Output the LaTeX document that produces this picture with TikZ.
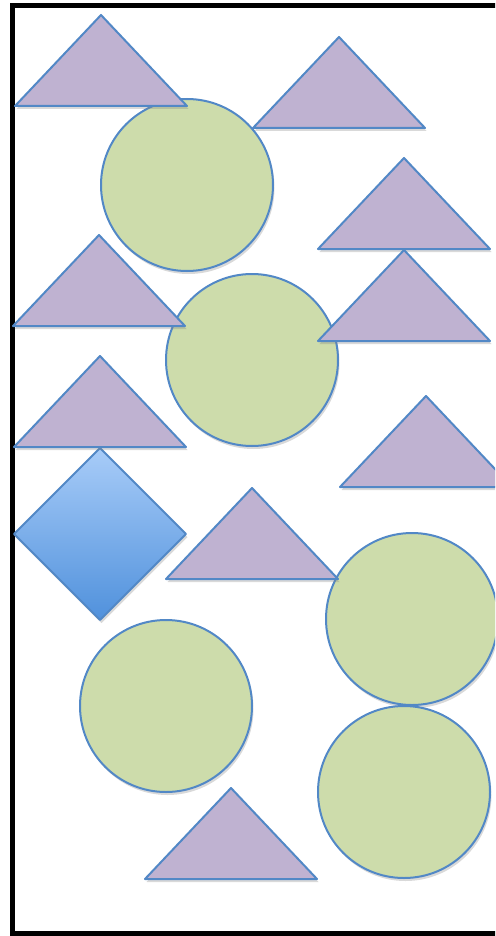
\documentclass[tikz,border=0pt]{standalone}
\usetikzlibrary{shadows}

\definecolor{shapeLine}{RGB}{82,136,198}
\definecolor{triFill}{RGB}{191,178,209}
\definecolor{discFill}{RGB}{205,220,171}
\definecolor{diaTop}{RGB}{168,204,248}
\definecolor{diaBottom}{RGB}{80,145,220}

\begin{document}
\begin{tikzpicture}[
    x=1pt, y=-1pt,
    % Shape styles
    outline/.style={draw=shapeLine, line width=2pt, line join=round,
        drop shadow={shadow xshift=1.5pt, shadow yshift=-3pt, opacity=0.3}},
    tri/.style={outline, fill=triFill},
    disc/.style={outline, fill=discFill},
    rhomb/.style={outline, top color=diaTop, bottom color=diaBottom},
    frame/.style={draw=black, line width=5pt},
]
    \useasboundingbox (0,0) rectangle (495,936);
    \clip (0,0) rectangle (495,936);

    % Frame
    \draw[frame] (12.5,5.5) rectangle (540,933.5);

    % Diamond
    \draw[rhomb] (100,448) -- (186,534) -- (100,620) -- (14,534) -- cycle;

    % Circles
    \foreach \cx/\cy in {187/185, 252/360, 412/619, 166/706, 404/792}
        \draw[disc] (\cx,\cy) circle (86pt);

    % Triangles, given by their apex
    \foreach \ax/\ay in {101/15, 339/37, 404/158, 99/235, 404/250,
                         100/356, 426/396, 252/488, 231/788}
        \draw[tri] (\ax,\ay) -- ++(86,91) -- ++(-172,0) -- cycle;

\end{tikzpicture}
\end{document}
